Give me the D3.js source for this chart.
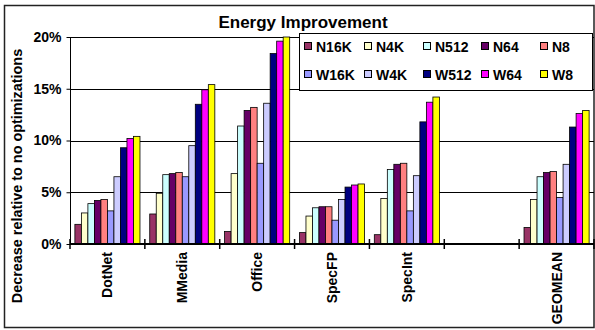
<!DOCTYPE html>
<html>
<head>
<meta charset="utf-8">
<script src="https://cdn.jsdelivr.net/npm/d3@7"></script>
<style>
  html, body { margin: 0; padding: 0; background: #fff; }
  svg { display: block; font-family: "Liberation Sans", Arial, sans-serif; font-weight: bold; }
</style>
</head>
<body>
<svg id="chart" width="595" height="330"></svg>
<script>
// Benchmark groups (one slot is intentionally left blank before GEOMEAN)
const categories = ["DotNet", "MMedia", "Office", "SpecFP", "SpecInt", "", "GEOMEAN"];

// Energy decrease (%) per configuration, one value per benchmark group
const N16K = [1.9, 2.9, 1.2, 1.1, 0.9, null, 1.6];
const N4K  = [3.0, 4.9, 6.8, 2.7, 4.4, null, 4.3];
const N512 = [3.9, 6.7, 11.4, 3.5, 7.2, null, 6.5];
const N64  = [4.2, 6.8, 12.9, 3.6, 7.7, null, 6.9];
const N8   = [4.3, 6.9, 13.2, 3.6, 7.8, null, 7.0];
const W16K = [3.2, 6.5, 7.8, 2.3, 3.2, null, 4.5];
const W4K  = [6.5, 9.5, 13.6, 4.3, 6.6, null, 7.7];
const W512 = [9.3, 13.5, 18.4, 5.5, 11.8, null, 11.3];
const W64  = [10.2, 14.9, 19.6, 5.7, 13.7, null, 12.6];
const W8   = [10.4, 15.4, 20.0, 5.8, 14.2, null, 12.9];

const seriesNames = ["N16K", "N4K", "N512", "N64", "N8", "W16K", "W4K", "W512", "W64", "W8"];
const seriesValues = [N16K, N4K, N512, N64, N8, W16K, W4K, W512, W64, W8];
const seriesColors = ["#993366", "#FFFFCC", "#CCFFFF", "#660066", "#FF8080",
                      "#9999FF", "#CCCCFF", "#000080", "#FF00FF", "#FFFF00"];

const yTicks = [0, 5, 10, 15, 20];

const svg = d3.select("#chart");

// Outer chart frame
svg.append("rect")
  .attr("x", 4.5).attr("y", 5.5).attr("width", 589.5).attr("height", 322)
  .attr("fill", "#fff").attr("stroke", "#222").attr("stroke-width", 1.5);

const plot = { left: 70, right: 594, top: 37, bottom: 244 };

const x0 = d3.scaleBand().domain(categories).range([plot.left, plot.right]).padding(0);
const x1 = d3.scaleBand().domain(seriesNames).range([0, x0.bandwidth()])
  .paddingInner(0).paddingOuter(0.75);
const y = d3.scaleLinear().domain([0, 20]).range([plot.bottom, plot.top]);
const color = d3.scaleOrdinal().domain(seriesNames).range(seriesColors);

// Horizontal gridlines
svg.append("g")
  .selectAll("line")
  .data(yTicks.filter(t => t > 0))
  .join("line")
  .attr("x1", plot.left).attr("x2", plot.right)
  .attr("y1", d => Math.round(y(d)) + 0.5).attr("y2", d => Math.round(y(d)) + 0.5)
  .attr("stroke", "#000").attr("stroke-width", 1);

// Bars
const rows = categories.map((c, i) => ({
  cat: c,
  values: seriesNames.map((s, j) => ({ series: s, value: seriesValues[j][i] }))
}));

svg.append("g")
  .selectAll("g")
  .data(rows)
  .join("g")
  .attr("transform", d => `translate(${x0(d.cat)},0)`)
  .selectAll("rect")
  .data(d => d.values.filter(v => v.value != null))
  .join("rect")
  .attr("x", d => x1(d.series))
  .attr("width", x1.bandwidth())
  .attr("y", d => y(d.value))
  .attr("height", d => y(0) - y(d.value))
  .attr("fill", d => color(d.series))
  .attr("stroke", "#000").attr("stroke-width", 0.8);

// Y axis
const yAxis = d3.axisLeft(y)
  .tickValues(yTicks)
  .tickSize(4)
  .tickPadding(5)
  .tickFormat(d => d + "%");

const gy = svg.append("g")
  .attr("transform", `translate(${plot.left + 0.5},0)`)
  .call(yAxis);
gy.select(".domain").attr("stroke", "#000").attr("d", `M0,${plot.top}V${plot.bottom}`);
gy.selectAll(".tick line").attr("stroke", "#000");
gy.selectAll(".tick text")
  .attr("font-size", 14).attr("font-weight", "bold").attr("fill", "#000")
  .attr("font-family", "Liberation Sans, Arial, sans-serif");

// X axis: thick baseline with crossing ticks at category boundaries
const gx = svg.append("g");
gx.append("line")
  .attr("x1", plot.left).attr("x2", plot.right)
  .attr("y1", plot.bottom).attr("y2", plot.bottom)
  .attr("stroke", "#000").attr("stroke-width", 2);

const boundaries = categories.map(c => x0(c)).concat([plot.right]);
gx.selectAll("line.tick")
  .data(boundaries)
  .join("line")
  .attr("class", "tick")
  .attr("x1", d => d).attr("x2", d => d)
  .attr("y1", plot.bottom - 5).attr("y2", plot.bottom + 5)
  .attr("stroke", "#000").attr("stroke-width", 1.5);

// Rotated category labels
gx.selectAll("text")
  .data(categories)
  .join("text")
  .attr("transform", d => `translate(${x0(d) + x0.bandwidth() / 2 + 5},252) rotate(-90)`)
  .attr("text-anchor", "end")
  .attr("font-size", 14)
  .attr("fill", "#000")
  .text(d => d);

// Y axis title
svg.append("text")
  .attr("transform", "translate(22,176) rotate(-90)")
  .attr("text-anchor", "middle")
  .attr("font-size", 14.4)
  .attr("fill", "#000")
  .text("Decrease relative to no optimizations");

// Chart title
svg.append("text")
  .attr("x", 303).attr("y", 28)
  .attr("text-anchor", "middle")
  .attr("font-size", 17)
  .attr("fill", "#000")
  .text("Energy Improvement");

// Legend (two rows of five)
const legend = svg.append("g");
legend.append("rect")
  .attr("x", 299.5).attr("y", 33.5).attr("width", 293).attr("height", 57)
  .attr("fill", "#fff").attr("stroke", "#000").attr("stroke-width", 1);

const colText = [316, 376, 435, 493, 552];
const rowBase = [52, 80];

const items = legend.selectAll("g")
  .data(seriesNames)
  .join("g")
  .attr("transform", (d, i) => `translate(${colText[i % 5]},${rowBase[Math.floor(i / 5)]})`);

items.append("rect")
  .attr("x", -11.5).attr("y", -9.5).attr("width", 7).attr("height", 7)
  .attr("fill", d => color(d))
  .attr("stroke", "#000").attr("stroke-width", 1);

items.append("text")
  .attr("x", 0).attr("y", 0)
  .attr("font-size", 14)
  .attr("fill", "#000")
  .text(d => d);
</script>
</body>
</html>
